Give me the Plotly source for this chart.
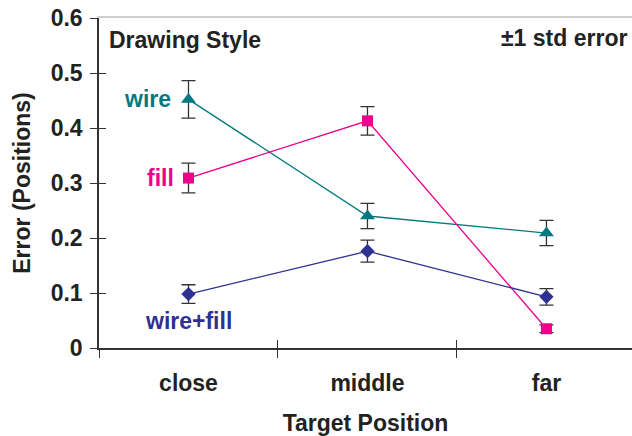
import plotly.graph_objects as go

categories = ["close", "middle", "far"]
wire = [0.452, 0.240, 0.209]
wire_err = [0.034, 0.023, 0.023]
fill = [0.309, 0.413, 0.035]
fill_err = [0.027, 0.026, 0.007]
wirefill = [0.098, 0.176, 0.093]
wirefill_err = [0.017, 0.020, 0.015]
y_ticks = [0, 0.1, 0.2, 0.3, 0.4, 0.5, 0.6]

xs = list(range(len(categories)))
bounds = [i - 0.5 for i in range(len(categories) + 1)]

TEAL = "#007A80"
MAG = "#EC008C"
NAVY = "#2E3192"
FONT = "Liberation Sans"
FS = 23

def trace(vals, errs, color, symbol, size, name):
    return go.Scatter(
        x=xs, y=vals, name=name, mode="lines+markers",
        line=dict(color=color, width=1.3),
        marker=dict(color=color, symbol=symbol, size=size),
        error_y=dict(type="data", array=errs, visible=True, color="#333333",
                     thickness=1.3, width=7),
        showlegend=False, cliponaxis=False,
    )

fig = go.Figure()
fig.add_trace(trace(wire, wire_err, TEAL, "triangle-up", 13, "wire"))
fig.add_trace(trace(fill, fill_err, MAG, "square", 11, "fill"))
fig.add_trace(trace(wirefill, wirefill_err, NAVY, "diamond", 11, "wire+fill"))

tf = dict(family=FONT, size=FS, color="#222222", weight="bold")

fig.update_layout(
    width=632, height=436,
    margin=dict(l=99, r=0, t=18, b=88, autoexpand=False),
    paper_bgcolor="white", plot_bgcolor="white",
    font=dict(family=FONT),
    xaxis=dict(
        range=[-0.5, 2.478], tickvals=xs, ticktext=categories, ticks="",
        showline=True, linecolor="#333333", linewidth=1.5, showgrid=False,
        zeroline=False, tickfont=tf, ticklabelstandoff=14, automargin=False,
        minor=dict(tickmode="array", tickvals=bounds, ticks="outside",
                   ticklen=8, tickwidth=1.3, tickcolor="#333333", showgrid=False),
        title=dict(text="Target Position", font=tf, standoff=21),
    ),
    xaxis2=dict(
        overlaying="x", anchor="y", side="bottom", range=[-0.5, 2.478],
        tickvals=bounds, ticks="inside", ticklen=8, tickwidth=1.3,
        tickcolor="#333333", showticklabels=False, showline=False,
        showgrid=False, zeroline=False, automargin=False,
    ),
    xaxis3=dict(
        overlaying="x", anchor="y", side="top", range=[-0.5, 2.478],
        ticks="", showticklabels=False, showline=True, linecolor="#cfcfcf",
        linewidth=1.5, showgrid=False, zeroline=False, automargin=False,
    ),
    yaxis=dict(
        range=[0, 0.6], tickvals=y_ticks, ticks="outside", ticklen=7,
        tickwidth=1.3, tickcolor="#333333", showline=True,
        linecolor="#333333", linewidth=1.5, showgrid=False, zeroline=False,
        tickfont=tf, ticklabelstandoff=3, automargin=False,
        title=dict(text="Error (Positions)", font=tf, standoff=14),
    ),
    yaxis2=dict(
        overlaying="y", anchor="x", side="left", range=[0, 0.6],
        tickvals=y_ticks, ticks="inside", ticklen=7, tickwidth=1.3,
        tickcolor="#333333", showticklabels=False, showline=False,
        showgrid=False, zeroline=False, automargin=False,
    ),
)

fig.add_trace(go.Scatter(x=[None], y=[None], xaxis="x2", yaxis="y", showlegend=False, hoverinfo="skip"))
fig.add_trace(go.Scatter(x=[None], y=[None], xaxis="x3", yaxis="y", showlegend=False, hoverinfo="skip"))
fig.add_trace(go.Scatter(x=[None], y=[None], xaxis="x", yaxis="y2", showlegend=False, hoverinfo="skip"))

def lab(text, x, y, color, **kw):
    fig.add_annotation(text=text, x=x, y=y, showarrow=False,
                       font=dict(family=FONT, size=FS, color=color, weight="bold"), **kw)

lab("wire", 0, wire[0], TEAL, xref="x", yref="y", xanchor="right", xshift=-15)
lab("fill", 0, fill[0], MAG, xref="x", yref="y", xanchor="right", xshift=-12)
lab("wire+fill", 0, 0.05, NAVY, xref="x", yref="y", xanchor="center")
lab("Drawing Style", 0.015, 0.56, "#222222", xref="paper", yref="y", xanchor="left", yanchor="middle")
lab("±1 std error", 0.994, 0.563, "#222222", xref="paper", yref="y", xanchor="right", yanchor="middle")

fig.write_html("out.html", post_script="document.body.style.margin='0';",
               config={"displayModeBar": False})
